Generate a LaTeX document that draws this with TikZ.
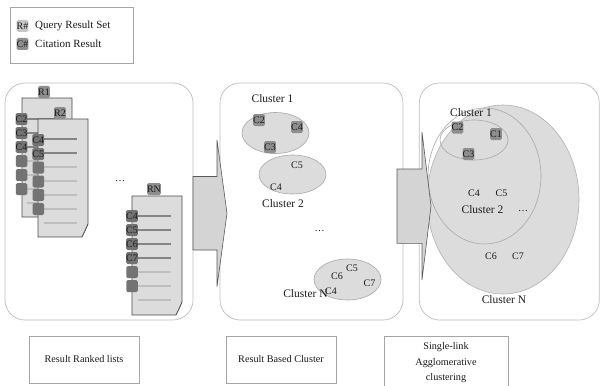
\documentclass[tikz,border=0pt]{standalone}
\usepackage{fontspec}
\setmainfont{Liberation Serif}
\definecolor{panelc}{HTML}{BDBDBD}
\definecolor{docfill}{HTML}{DCDCDC}
\definecolor{docedge}{HTML}{4A4A4A}
\definecolor{sqc}{HTML}{737373}
\definecolor{lined}{HTML}{858585}
\definecolor{linel}{HTML}{BEBEBE}
\definecolor{ellfill}{HTML}{DCDCDC}
\definecolor{elledge}{HTML}{A8A8A8}
\definecolor{arrfill}{HTML}{D4D4D4}
\definecolor{arredge}{HTML}{5A5A5A}
\definecolor{boxc}{HTML}{A6A6A6}
\definecolor{cboxc}{HTML}{8E8E8E}
\definecolor{txt}{HTML}{1A1A1A}
\newcommand{\cfnt}{\fontsize{10}{12}\selectfont}
\newcommand{\clfnt}{\fontsize{11.5}{13}\selectfont}
\newcommand{\lgfnt}{\fontsize{11}{13}\selectfont}
\newcommand{\btfnt}{\fontsize{10.2}{15.5}\selectfont}
\newcommand{\mydoc}[4]{%
  \filldraw[docstyle] (#1,#2) -- (#3,#2) -- (#3,#4-13) -- (#3-6,#4) -- (#1,#4) -- cycle;
  \draw[docstyle] (#3,#4-13) -- (#3-3,#4-6) -- (#3-6,#4);}
\begin{document}
\begin{tikzpicture}[x=1pt,y=-1pt,
  panel/.style={draw=panelc, line width=0.7pt, rounded corners=20pt, inner sep=0pt},
  docstyle/.style={fill=docfill, draw=docedge, line width=0.6pt},
  sq/.style={fill=sqc, rounded corners=1.5pt, minimum width=11.5pt, minimum height=12pt, inner sep=0pt, font=\cfnt, text=txt},
  rlab/.style={sq, fill=cboxc},
  rowd/.style={draw=lined, line width=2.6pt},
  rowl/.style={draw=linel, line width=2.6pt},
  clab/.style={font=\clfnt, inner sep=0pt, text=txt},
  cl/.style={font=\cfnt, inner sep=0pt, text=txt},
  cb/.style={cl, fill=cboxc, rounded corners=1.5pt, minimum width=11.5pt, minimum height=12pt},
  ell/.style={fill=ellfill, draw=elledge, line width=0.6pt},
  ello/.style={draw=elledge, line width=0.6pt},
  bigarrow/.style={fill=arrfill, draw=arredge, line width=0.6pt},
  capbox/.style={draw=boxc, line width=0.6pt, inner sep=0pt, font=\btfnt, text=txt, align=center}]
\useasboundingbox (0,0) rectangle (601,385);
\clip (0,0) rectangle (601,385);

% legend
\node[draw=boxc, line width=0.6pt, minimum width=123pt, minimum height=56pt, inner sep=0pt] (legend) at (71.5,35) {};
\node[sq, fill=gray!45] (lr) at (22.5,26) {R\#};
\node[sq, fill=cboxc] (lc) at (22.5,44) {C\#};
\node[font=\lgfnt, anchor=west, inner sep=0pt, text=txt] (lrt) at (35,26) {Query Result Set};
\node[font=\lgfnt, anchor=west, inner sep=0pt, text=txt] (lct) at (35,44) {Citation Result};

% panels
\node[panel, minimum width=188pt, minimum height=237pt] (p1) at (99,201.5) {};
\node[panel, minimum width=183pt, minimum height=237pt] (p2) at (311.5,201.5) {};
\node[panel, minimum width=180pt, minimum height=237pt] (p3) at (509.3,201.5) {};

% ---- panel 1: ranked lists
% R1
\mydoc{22}{98}{72}{217}
\foreach \y in {119,133,147} \draw[rowd] (27,\y) -- (62,\y);
\foreach \y in {161,175,189,203} \draw[rowl] (27,\y) -- (62,\y);
\node[sq] (r1a) at (21.5,119) {C2};
\node[sq] (r1b) at (21.5,133) {C3};
\node[sq] (r1c) at (21.5,147) {C4};
\node[sq] (r1d) at (21.5,161) {};
\node[sq] (r1e) at (21.5,175) {};
\node[sq] (r1f) at (21.5,189) {};
\node[rlab] (r1) at (44,92) {R1};
% R2
\mydoc{38}{119}{88}{237}
\foreach \y in {139,153} \draw[rowd] (44,\y) -- (77,\y);
\foreach \y in {167,181,195,209,223} \draw[rowl] (44,\y) -- (77,\y);
\node[sq] (r2a) at (38.3,140) {C4};
\node[sq] (r2b) at (38.3,154) {C5};
\node[sq] (r2c) at (38.3,167.5) {};
\node[sq] (r2d) at (38.3,181.5) {};
\node[sq] (r2e) at (38.3,195) {};
\node[sq] (r2f) at (38.3,209) {};
\node[rlab] (r2) at (60,113) {R2};
% dots
\node[font=\cfnt, inner sep=0pt] (dots1) at (120,181) {\dots};
% RN
\mydoc{132}{196}{182}{315}
\foreach \y in {216,230,244,258} \draw[rowd] (138,\y) -- (171,\y);
\foreach \y in {272,286,300} \draw[rowl] (138,\y) -- (171,\y);
\node[sq] (rna) at (132,216) {C4};
\node[sq] (rnb) at (132,230) {C5};
\node[sq] (rnc) at (132,244) {C6};
\node[sq] (rnd) at (132,258) {C7};
\node[sq] (rne) at (132,272) {};
\node[sq] (rnf) at (132,286) {};
\node[rlab] (rn) at (154,189) {RN};

% ---- panel 2: result based clusters
\draw[ell] (275.5,133) ellipse [x radius=33.5pt, y radius=20.5pt];
\draw[ell] (292.5,174.5) ellipse [x radius=33.5pt, y radius=19.5pt];
\draw[ell] (347.5,279.5) ellipse [x radius=33.5pt, y radius=20.5pt];
\node[clab] (k1) at (272.5,99) {Cluster 1};
\node[cb] (a2) at (259,120) {C2};
\node[cb] (a4) at (297,127) {C4};
\node[cb] (a3) at (270,147) {C3};
\node[cl] (b5) at (297,165) {C5};
\node[cl] (b4) at (276,187) {C4};
\node[clab] (k2) at (283,204) {Cluster 2};
\node[font=\cfnt, inner sep=0pt] (dots2) at (319.5,231) {\dots};
\node[clab] (kn) at (305.5,294) {Cluster N};
\node[cl] (n5) at (352,268.5) {C5};
\node[cl] (n6) at (337,276) {C6};
\node[cl] (n7) at (369.5,283.5) {C7};
\node[cl] (n4) at (331,291) {C4};

% ---- panel 3: single-link agglomerative
\draw[ell, draw=elledge!90] (503,199.5) ellipse [x radius=76pt, y radius=94.5pt];
\draw[ello] (484.5,176) ellipse [x radius=56.5pt, y radius=68pt];
\draw[ello] (474,140) ellipse [x radius=34pt, y radius=20pt];

% block arrows
\draw[bigarrow] (193,176.5) -- (217,176.5) -- (217,140) -- (227,213.3) -- (217,286.7) -- (217,250) -- (193,250) -- cycle;
\draw[bigarrow] (397,169) -- (422,169) -- (422,132) -- (431,206) -- (422,280) -- (422,243.3) -- (397,243.3) -- cycle;

\node[clab] (m1) at (471,112.7) {Cluster 1};
\node[cb] (c2) at (457.5,127.5) {C2};
\node[cb] (c1) at (496,134) {C1};
\node[cb] (c3) at (468.5,154) {C3};
\node[cl] (c4) at (474,193) {C4};
\node[cl] (c5) at (501.5,193) {C5};
\node[clab] (m2) at (482.5,209.3) {Cluster 2};
\node[font=\cfnt, inner sep=0pt] (dots3) at (523,211) {\dots};
\node[cl] (c6) at (491,256) {C6};
\node[cl] (c7) at (518,256) {C7};
\node[clab] (mn) at (504,300) {Cluster N};

% ---- caption boxes
\node[capbox, minimum width=110pt, minimum height=47pt] (t1) at (84,359.5) {Result Ranked lists};
\node[capbox, minimum width=110pt, minimum height=47pt] (t2) at (281,359.5) {Result Based Cluster};
\node[capbox, minimum width=124pt, minimum height=54pt] (t3) at (446,363) {Single-link\\Agglomerative\\clustering};
\end{tikzpicture}
\end{document}
